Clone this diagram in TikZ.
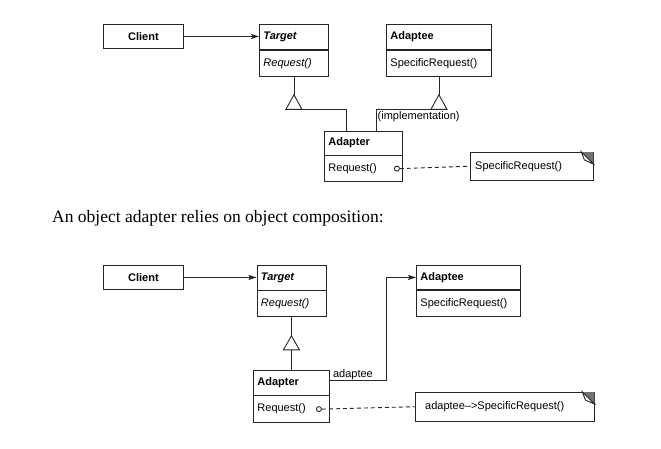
\documentclass[tikz,border=0pt]{standalone}
\usepackage{fontspec}
\setmainfont{Liberation Serif}
\newfontfamily\hv{Liberation Sans}
\usetikzlibrary{arrows.meta,calc}
\tikzset{
  ln/.style={line width=0.9pt, draw=black!85},
  comp/.style={ln, rectangle, inner xsep=4pt, inner ysep=0pt, align=left,
               font=\hv\fontsize{11}{13}\selectfont},
  cbox/.style={ln, rectangle, inner sep=0pt, align=center,
               font=\hv\fontsize{11}{13}\selectfont},
  notebox/.style={rectangle, inner ysep=0pt, align=left,
               font=\hv\fontsize{11}{13}\selectfont},
  lbl/.style={inner sep=0pt, font=\hv\fontsize{11}{13}\selectfont},
  assoc/.style={ln, -{Stealth[length=8pt,width=5pt,inset=1.5pt]}},
  dashline/.style={ln, dash pattern=on 4pt off 3pt},
  port/.style={ln, circle, inner sep=0pt, minimum size=5pt, fill=white},
}
\begin{document}
\begin{tikzpicture}[x=1pt,y=1pt]
\useasboundingbox (0,0) rectangle (661,-448);

% ---------------- top: class adapter ----------------
\node[cbox, anchor=north west, minimum width=80pt, minimum height=24pt] (c1) at (103,-24) {\bfseries Client};

\node[comp, anchor=north west, text width=61pt, minimum height=25pt] (t1n) at (259,-24) {\bfseries\itshape Target};
\node[comp, anchor=north, text width=61pt, minimum height=26pt] (t1o) at (t1n.south) {\itshape Request()};

\node[comp, anchor=north west, text width=97pt, minimum height=25pt] (ad1n) at (386,-24) {\bfseries Adaptee};
\node[comp, anchor=north, text width=97pt, minimum height=26pt] (ad1o) at (ad1n.south) {SpecificRequest()};

\node[comp, anchor=north west, text width=70pt, minimum height=24pt] (a1n) at (324,-130.5) {\bfseries Adapter};
\node[comp, anchor=north, text width=70pt, minimum height=25.5pt] (a1o) at (a1n.south) {Request()};

\node[notebox, anchor=north west, inner xsep=5pt, text width=113pt, minimum height=28pt] (n1) at (470,-152) {SpecificRequest()};
\draw[ln] (n1.north west) -- (n1.north east) -- (n1.south east) -- (n1.south west) -- cycle;
\fill[black!55] ($(n1.north east)+(-12,0)$) -- (n1.north east) -- ($(n1.north east)+(0,-12)$) -- cycle;
\draw[ln, fill=white] ($(n1.north east)+(-12,0)$) -- ($(n1.north east)+(0,-12)$) -- ($(n1.north east)+(-9,-8)$) -- cycle;

\draw[assoc] (c1.east) -- (c1.east -| t1n.west);

\coordinate (tri1) at ($(t1o.south)+(0,-18)$);
\draw[ln] (t1o.south) -- (tri1);
\draw[ln, fill=white] (tri1) -- ++(-8,-14.5) -- ++(16,0) -- cycle;
\draw[ln] ($(tri1)+(8,-14.5)$) -| ($(a1n.north west)+(22,0)$);

\coordinate (tri2) at ($(ad1o.south)+(0,-18)$);
\draw[ln] (ad1o.south) -- (tri2);
\draw[ln, fill=white] (tri2) -- ++(-8,-14.5) -- ++(16,0) -- cycle;
\draw[ln] ($(tri2)+(-8,-14.5)$) -| ($(a1n.north west)+(52,0)$);
\node[lbl, anchor=west] (impl) at (377.5,-116.5) {(implementation)};

\node[port] (o1) at ([xshift=-6pt]a1o.east) {};
\draw[dashline] (o1.east) -- (n1.west);

% ---------------- caption ----------------
\node[anchor=base west, inner sep=0pt, font=\fontsize{17.5}{19}\selectfont] (cap) at (52,-222) {An object adapter relies on object composition:};

% ---------------- bottom: object adapter ----------------
\node[cbox, anchor=north west, minimum width=80pt, minimum height=24pt] (c2) at (103,-265) {\bfseries Client};

\node[comp, anchor=north west, text width=61pt, minimum height=24.5pt] (t2n) at (256.5,-265) {\bfseries\itshape Target};
\node[comp, anchor=north, text width=61pt, minimum height=25.5pt] (t2o) at (t2n.south) {\itshape Request()};

\node[comp, anchor=north west, text width=96pt, minimum height=24pt] (ad2n) at (416,-265) {\bfseries Adaptee};
\node[comp, anchor=north, text width=96pt, minimum height=26pt] (ad2o) at (ad2n.south) {SpecificRequest()};

\node[comp, anchor=north west, text width=68pt, minimum height=24.5pt] (a2n) at (253,-370) {\bfseries Adapter};
\node[comp, anchor=north, text width=68pt, minimum height=26.5pt] (a2o) at (a2n.south) {Request()};

\node[notebox, anchor=north west, inner xsep=10pt, text width=159pt, minimum height=29pt] (n2) at (415,-392) {adaptee\textendash>SpecificRequest()};
\draw[ln] (n2.north west) -- (n2.north east) -- (n2.south east) -- (n2.south west) -- cycle;
\fill[black!55] ($(n2.north east)+(-12,0)$) -- (n2.north east) -- ($(n2.north east)+(0,-12)$) -- cycle;
\draw[ln, fill=white] ($(n2.north east)+(-12,0)$) -- ($(n2.north east)+(0,-12)$) -- ($(n2.north east)+(-9,-8)$) -- cycle;

\draw[assoc] (c2.east) -- (c2.east -| t2n.west);

\coordinate (tri3) at ($(t2o.south)+(0,-19)$);
\draw[ln] (t2o.south) -- (tri3);
\draw[ln, fill=white] (tri3) -- ++(-8,-14) -- ++(16,0) -- cycle;
\draw[ln] ($(tri3)+(0,-14)$) -- (tri3 |- a2n.north);

\draw[assoc] ([yshift=2.75pt]a2n.east) -| ([xshift=-30pt]ad2n.west) -- (ad2n.west);
\node[lbl, anchor=base west] (adl) at ($(a2n.east)+(3,5.5)$) {adaptee};

\node[port] (o2) at ([xshift=-11pt]a2o.east) {};
\draw[dashline] (o2.east) -- (n2.west);
\end{tikzpicture}
\end{document}
